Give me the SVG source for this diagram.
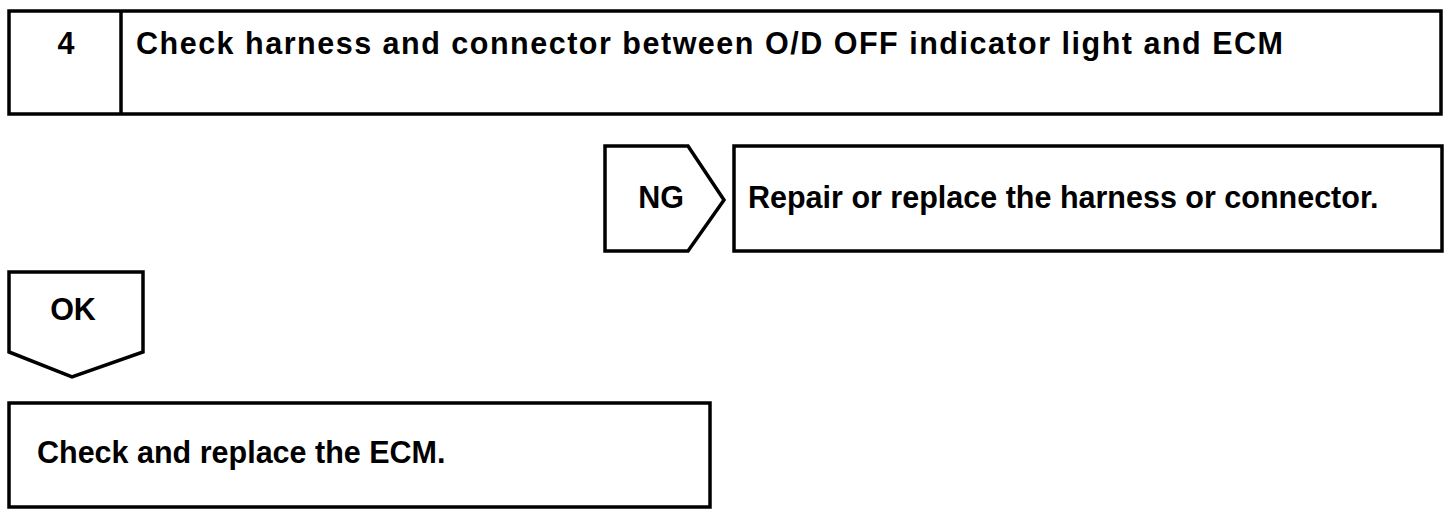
<svg xmlns="http://www.w3.org/2000/svg" width="1456" height="516" viewBox="0 0 1456 516">
<style>
.b{fill:#fff;stroke:#000;stroke-width:3.5;stroke-linejoin:miter}
.t{font-family:"Liberation Sans",Arial,sans-serif;font-weight:bold;font-size:30.5px;fill:#000}
</style>
<rect width="1456" height="516" fill="#fff"/>
<g id="step4">
<rect class="b" x="9" y="11" width="1432" height="103"/>
<line class="b" x1="121" y1="11" x2="121" y2="114"/>
<text class="t" x="66" y="54" text-anchor="middle">4</text>
<text class="t" x="136" y="54" textLength="1147" lengthAdjust="spacing">Check harness and connector between O/D OFF indicator light and ECM</text>
</g>
<g id="ng">
<polygon class="b" points="605,146 688,146 724,200 688,251 605,251"/>
<text class="t" x="661" y="208" text-anchor="middle">NG</text>
</g>
<g id="repair">
<rect class="b" x="734" y="146" width="708" height="105"/>
<text class="t" x="748" y="208">Repair or replace the harness or connector.</text>
</g>
<g id="ok">
<polygon class="b" points="9,272 143,272 143,352 72,377 9,352"/>
<text class="t" x="73" y="320" text-anchor="middle">OK</text>
</g>
<g id="ecm">
<rect class="b" x="9" y="403" width="701" height="104"/>
<text class="t" x="37" y="463">Check and replace the ECM.</text>
</g>
<g id="connectors"></g>
</svg>
